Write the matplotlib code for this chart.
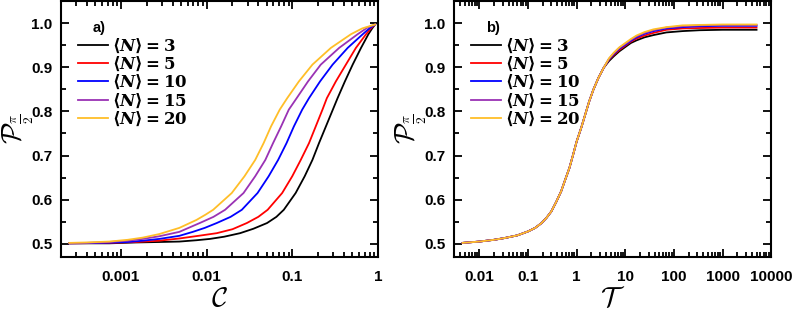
import matplotlib
matplotlib.use("Agg")
import matplotlib.pyplot as plt
import matplotlib.ticker as mticker

# ---- data ----
labels = [r"$\langle N\rangle = 3$", r"$\langle N\rangle = 5$", r"$\langle N\rangle = 10$",
          r"$\langle N\rangle = 15$", r"$\langle N\rangle = 20$"]
colors = ["black", "#ff0000", "#0000ff", "#9a32b4", "#ffbe28"]

# panel a) : P vs C
c_n3 = [2.5e-4, 7.3e-4, 1.5e-3, 2.8e-3, 4.8e-3, 7.6e-3, 0.0109, 0.016, 0.0245, 0.035,
        0.0506, 0.065, 0.0793, 0.109, 0.139, 0.171, 0.204, 0.275, 0.336, 0.409,
        0.504, 0.631, 0.769, 0.85, 0.92]
p_n3 = [0.501, 0.501, 0.503, 0.504, 0.505, 0.508, 0.511, 0.516, 0.524, 0.534,
        0.547, 0.561, 0.577, 0.615, 0.653, 0.690, 0.728, 0.789, 0.830, 0.868,
        0.906, 0.944, 0.975, 0.988, 0.997]

c_n5 = [2.5e-4, 7.3e-4, 1.5e-3, 2.8e-3, 4.8e-3, 8e-3, 0.0131, 0.02, 0.0294, 0.04,
        0.0514, 0.0759, 0.0995, 0.125, 0.156, 0.187, 0.224, 0.252, 0.321, 0.420,
        0.550, 0.722, 0.82, 0.92]
p_n5 = [0.501, 0.502, 0.504, 0.507, 0.512, 0.518, 0.524, 0.533, 0.547, 0.561,
        0.577, 0.615, 0.653, 0.690, 0.728, 0.766, 0.804, 0.830, 0.868, 0.906,
        0.944, 0.975, 0.988, 0.997]

c_n10 = [2.5e-4, 4e-4, 7.3e-4, 1.2e-3, 1.8e-3, 2.8e-3, 4.8e-3, 6.9e-3, 0.0095, 0.0131,
         0.019, 0.0257, 0.0392, 0.0528, 0.0681, 0.0853, 0.104, 0.130, 0.156, 0.210,
         0.294, 0.441, 0.661, 0.8, 0.92]
p_n10 = [0.501, 0.5015, 0.5025, 0.504, 0.507, 0.511, 0.518, 0.527, 0.536, 0.547,
         0.561, 0.577, 0.615, 0.653, 0.690, 0.728, 0.766, 0.804, 0.830, 0.868,
         0.906, 0.944, 0.975, 0.989, 0.997]

c_n15 = [2.5e-4, 4e-4, 7.3e-4, 1.2e-3, 1.8e-3, 2.8e-3, 4.8e-3, 8.3e-3, 0.012, 0.0164,
         0.0269, 0.0368, 0.0483, 0.0594, 0.0738, 0.0907, 0.112, 0.152, 0.214, 0.351,
         0.577, 0.75, 0.92]
p_n15 = [0.5015, 0.502, 0.504, 0.507, 0.511, 0.517, 0.527, 0.547, 0.561, 0.577,
         0.615, 0.653, 0.690, 0.728, 0.766, 0.804, 0.830, 0.868, 0.906, 0.944,
         0.975, 0.990, 0.997]

c_n20 = [2.5e-4, 4e-4, 7.3e-4, 1.2e-3, 1.8e-3, 2.8e-3, 4.8e-3, 7.6e-3, 0.0097, 0.0119,
         0.0196, 0.0276, 0.0368, 0.0461, 0.0563, 0.0711, 0.0869, 0.119, 0.171, 0.281,
         0.482, 0.65, 0.92]
p_n20 = [0.502, 0.503, 0.505, 0.509, 0.514, 0.522, 0.536, 0.554, 0.566, 0.577,
         0.615, 0.653, 0.690, 0.728, 0.766, 0.804, 0.830, 0.868, 0.906, 0.944,
         0.975, 0.988, 0.997]

# panel b) : P vs T  (all curves coincide below T ~ 4)
t_low = [0.0045, 0.01, 0.02, 0.033, 0.06, 0.1, 0.14, 0.19, 0.24, 0.3, 0.38,
         0.48, 0.58, 0.71, 0.85, 1.0, 1.25, 1.5, 1.8, 2.2, 2.8, 3.6]
p_low = [0.502, 0.505, 0.509, 0.513, 0.519, 0.528, 0.536, 0.547, 0.559, 0.573, 0.595,
         0.619, 0.645, 0.672, 0.703, 0.732, 0.764, 0.793, 0.822, 0.849, 0.876, 0.899]
t_high = [4.6, 5.8, 7.5, 10, 13, 17, 25, 38, 70, 150, 340, 1000, 5000]
p_high_n3 = [0.914, 0.925, 0.936, 0.946, 0.955, 0.961, 0.968, 0.973, 0.979, 0.982, 0.984, 0.985, 0.985]
p_high_n5 = [0.917, 0.928, 0.939, 0.949, 0.958, 0.965, 0.972, 0.978, 0.985, 0.988, 0.989, 0.990, 0.990]
p_high_n10 = [0.918, 0.930, 0.942, 0.951, 0.960, 0.968, 0.976, 0.982, 0.988, 0.991, 0.993, 0.994, 0.994]
p_high_n15 = [0.919, 0.932, 0.944, 0.953, 0.962, 0.970, 0.978, 0.984, 0.990, 0.993, 0.995, 0.996, 0.996]
p_high_n20 = [0.920, 0.933, 0.945, 0.955, 0.964, 0.972, 0.980, 0.986, 0.991, 0.995, 0.996, 0.997, 0.997]


def main():
    plt.rcParams['font.family'] = ['Liberation Sans', 'DejaVu Sans']
    plt.rcParams['font.weight'] = 'bold'
    plt.rcParams['mathtext.fontset'] = 'custom'
    plt.rcParams['mathtext.it'] = 'DejaVu Serif:italic:bold'
    plt.rcParams['mathtext.rm'] = 'DejaVu Serif:bold'
    plt.rcParams['mathtext.bf'] = 'DejaVu Serif:bold'

    fig = plt.figure(figsize=(7.93, 3.14), dpi=100)
    ax1 = fig.add_axes([0.0769, 0.1815, 0.400, 0.815])
    ax2 = fig.add_axes([0.5725, 0.1815, 0.400, 0.815])

    c_series = [c_n3, c_n5, c_n10, c_n15, c_n20]
    p_series = [p_n3, p_n5, p_n10, p_n15, p_n20]
    high_series = [p_high_n3, p_high_n5, p_high_n10, p_high_n15, p_high_n20]

    for c, p, col, lab in zip(c_series, p_series, colors, labels):
        ax1.plot(c, p, color=col, linewidth=1.3, label=lab)
    for ph, col, lab in zip(high_series, colors, labels):
        ax2.plot(t_low + t_high, p_low + ph, color=col, linewidth=1.3, label=lab)

    ax1.set_xlim(2e-4, 1.0)
    ax2.set_xlim(0.003, 10000)

    fmt = mticker.FuncFormatter(lambda v, pos: "%g" % v)
    for ax, xl, tag in [(ax1, r"$\mathcal{C}$", "a)"), (ax2, r"$\mathcal{T}$", "b)")]:
        ax.set_xscale('log')
        ax.set_ylim(0.47, 1.05)
        ax.xaxis.set_major_locator(mticker.LogLocator(base=10, numticks=20))
        ax.xaxis.set_minor_locator(mticker.LogLocator(base=10, subs=range(2, 10), numticks=20))
        ax.xaxis.set_major_formatter(fmt)
        ax.xaxis.set_minor_formatter(mticker.NullFormatter())
        ax.yaxis.set_major_locator(mticker.MultipleLocator(0.1))
        ax.yaxis.set_minor_locator(mticker.MultipleLocator(0.05))
        ax.yaxis.set_major_formatter(mticker.FormatStrFormatter('%.1f'))
        ax.tick_params(which='both', direction='in', top=True, right=True,
                       width=1.3, labelsize=11)
        ax.tick_params(which='major', length=6)
        ax.tick_params(which='minor', length=3.5)
        ax.tick_params(axis='x', pad=9)
        ax.tick_params(axis='y', pad=6)
        for s in ax.spines.values():
            s.set_linewidth(1.5)

        xlab = ax.set_xlabel(xl, fontsize=20, labelpad=2)
        xlab.set_math_fontfamily('cm')
        ylab = ax.set_ylabel(r"$\mathcal{P}_{\frac{\pi}{2}}$", fontsize=20)
        ylab.set_math_fontfamily('cm')
        ax.yaxis.set_label_coords(-0.08, 0.5)

        ax.text(0.1, 0.895, tag, transform=ax.transAxes, fontsize=10.5, fontweight='bold',
                ha='left', va='center')

        ax.legend(loc='upper left', bbox_to_anchor=(0.055, 0.862), frameon=False,
                  fontsize=12, handlelength=1.8, handletextpad=0.2,
                  labelspacing=0.0, borderaxespad=0, borderpad=0)

    fig.savefig("out.png", dpi=100)


if __name__ == "__main__":
    main()
